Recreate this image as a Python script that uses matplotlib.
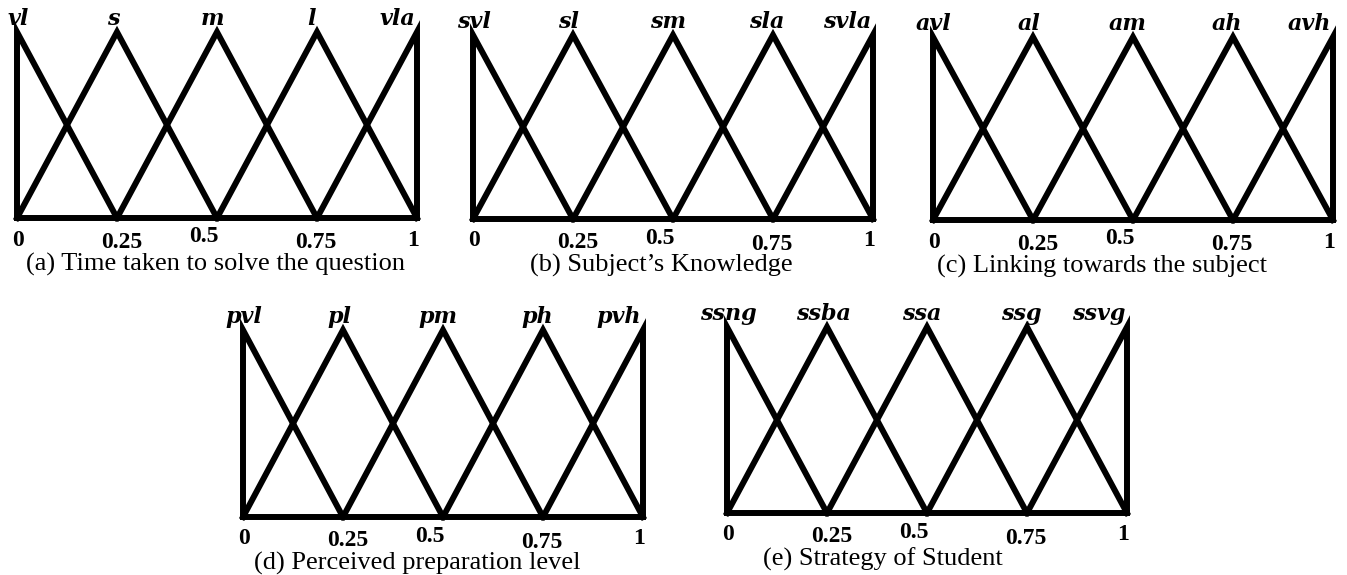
import matplotlib
matplotlib.use("Agg")
import matplotlib.pyplot as plt

# ---- data ----
centers = [0.0, 0.25, 0.5, 0.75, 1.0]
tick_labels = ["0", "0.25", "0.5", "0.75", "1"]
labels_a = ["vl", "s", "m", "l", "vla"]
labels_b = ["svl", "sl", "sm", "sla", "svla"]
labels_c = ["avl", "al", "am", "ah", "avh"]
labels_d = ["pvl", "pl", "pm", "ph", "pvh"]
labels_e = ["ssng", "ssba", "ssa", "ssg", "ssvg"]
captions = ["(a) Time taken to solve the question",
            "(b) Subject\u2019s Knowledge",
            "(c) Linking towards the subject",
            "(d) Perceived preparation level",
            "(e) Strategy of Student"]

# ---- layout / style ----
W, H = 1347, 575
# panel boxes in pixels: left, right, top, bottom
boxes = [(17, 417, 32, 218), (473, 873, 35, 219), (933, 1333, 37, 220),
         (243, 643, 330, 517), (727, 1127, 327, 513)]
caption_dx = [-1, -12, -31, -26, -44]
tick_dx = [1, 5, -13, -1, -4]
tick_dy = [-22, -24, -19, -25, -22]
top_dx = [1, -4, -5, -6, -2]
top_ha = ["center", "center", "center", "center", "right"]
LW = 4.3

fig = plt.figure(figsize=(W / 100, H / 100), dpi=100)

all_labels = [labels_a, labels_b, labels_c, labels_d, labels_e]
for (l, r, t, b), labs, cap, cdx in zip(boxes, all_labels, captions, caption_dx):
    ax = fig.add_axes([l / W, (H - b) / H, (r - l) / W, (b - t) / H])
    ax.set_xlim(0, 1)
    ax.set_ylim(0, 1)
    ax.axis("off")
    n = len(centers)
    for i, c in enumerate(centers):
        if i == 0:
            xs, ys = [c, c, centers[1]], [0, 1, 0]
        elif i == n - 1:
            xs, ys = [centers[-2], c, c], [0, 1, 0]
        else:
            xs, ys = [centers[i - 1], c, centers[i + 1]], [0, 1, 0]
        ax.plot(xs, ys, color="black", lw=LW, solid_joinstyle="miter",
                solid_capstyle="projecting", clip_on=False)
    ax.plot([centers[0], centers[-1]], [0, 0], color="black", lw=LW,
            solid_capstyle="projecting", clip_on=False)
    for c, lab, dx, ha in zip(centers, labs, top_dx, top_ha):
        ax.annotate(lab, xy=(c, 1), xytext=(dx, 13), textcoords="offset pixels",
                    ha=ha, va="center", fontsize=16, fontweight="bold",
                    fontstyle="italic", family="DejaVu Serif")
    for c, tl, dx, dy in zip(centers, tick_labels, tick_dx, tick_dy):
        ax.annotate(tl, xy=(c, 0), xytext=(dx, dy), textcoords="offset pixels",
                    ha="center", va="center", fontsize=17, fontweight="bold",
                    family="Liberation Serif")
    ax.annotate(cap, xy=(0.5, 0), xycoords="axes fraction", xytext=(cdx, -46),
                textcoords="offset pixels", ha="center", va="center",
                fontsize=19, family="Liberation Serif")

fig.savefig("out.png", dpi=100)
